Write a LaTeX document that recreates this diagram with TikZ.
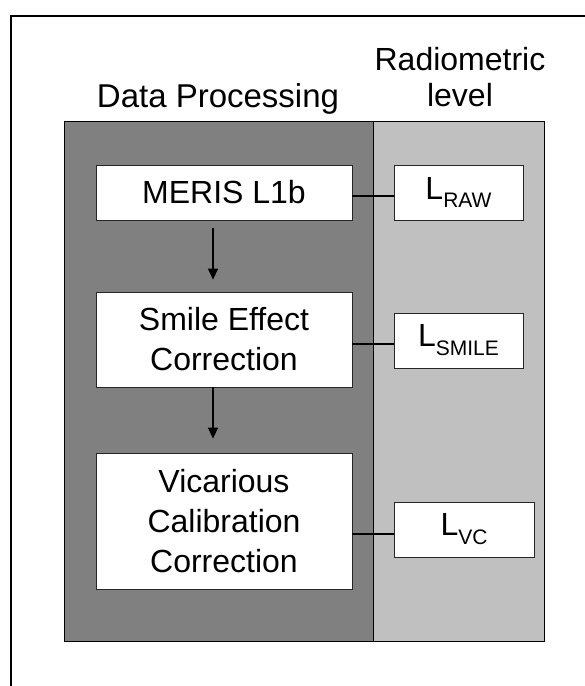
\documentclass[tikz,border=0pt]{standalone}
\usepackage{fontspec}
\setmainfont{Liberation Sans}
\usetikzlibrary{arrows.meta}
\definecolor{procgray}{RGB}{128,128,128}
\definecolor{levelgray}{RGB}{192,192,192}
\newcommand{\lsub}[1]{\raisebox{-0.28em}{\fontsize{21}{21}\selectfont #1}}
\tikzset{
	stepbox/.style={draw=black!85, fill=white, line width=0.8pt, align=center, inner sep=0pt, minimum width=256pt, font=\fontsize{32}{40}\selectfont},
	levelbox/.style={stepbox, minimum width=129pt, minimum height=55pt},
	flow/.style={line width=1.3pt, -{Triangle[length=11pt,width=10pt]}},
	link/.style={line width=1.3pt},
}

\begin{document}
\begin{tikzpicture}[x=1pt,y=-1pt]
	\useasboundingbox (0,0) rectangle (585,686);
	\draw[line width=2pt] (10.5,686) -- (10.5,16) -- (585,16);
	\draw[fill=procgray, line width=0.8pt] (64,121) rectangle (373,641);
	\draw[fill=levelgray, line width=0.8pt] (373,121) rectangle (544,641);
	\node[anchor=base, font=\fontsize{33}{35}\selectfont] (proctitle) at (218,107) {Data Processing};
	\node[anchor=base, align=center, font=\fontsize{32}{36}\selectfont] (leveltitle) at (460,106) {Radiometric\\level};
	\node[stepbox, minimum height=55pt] (meris) at (224,192.5) {MERIS L1b};
	\node[stepbox, minimum height=95pt] (smile) at (224,339.5) {Smile Effect\\Correction};
	\node[stepbox, minimum height=136pt] (vic) at (224,521) {Vicarious\\Calibration\\Correction};
	\node[levelbox] (lraw) at (458.5,192.5) {L\lsub{RAW}};
	\node[levelbox] (lsmile) at (458.5,340.5) {L\lsub{SMILE}};
	\node[levelbox, minimum width=140pt] (lvc) at (464,529.5) {L\lsub{VC}};
	\draw[flow, shorten <=8pt, shorten >=12pt] ([xshift=-11pt]meris.south) -- ([xshift=-11pt]smile.north);
	\draw[flow, shorten >=14pt] ([xshift=-11pt]smile.south) -- ([xshift=-11pt]vic.north);
	\draw[link] ([yshift=-3.5pt]meris.east) -- ([yshift=-3.5pt]meris.east -| lraw.west);
	\draw[link] ([yshift=-4.5pt]smile.east) -- ([yshift=-4.5pt]smile.east -| lsmile.west);
	\draw[link] ([yshift=-13pt]vic.east) -- ([yshift=-13pt]vic.east -| lvc.west);
\end{tikzpicture}
\end{document}
